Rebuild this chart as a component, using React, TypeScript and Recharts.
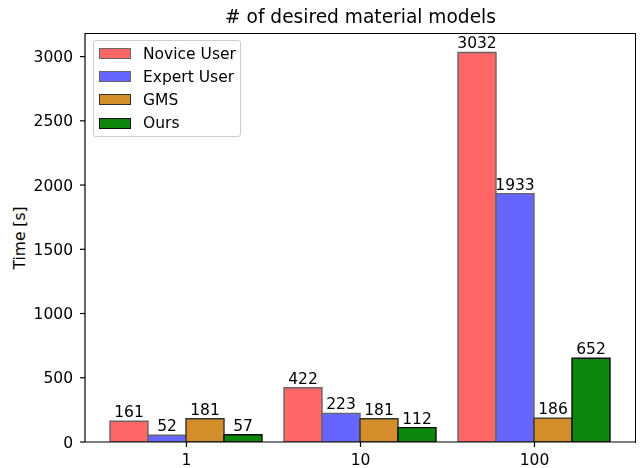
import React from 'react';
import { BarChart, Bar, XAxis, YAxis, LabelList } from 'recharts';

const categories = ['1', '10', '100'];
const noviceUser = [161, 422, 3032];
const expertUser = [52, 223, 1933];
const gms = [181, 181, 186];
const ours = [57, 112, 652];
const yTicks = [0, 500, 1000, 1500, 2000, 2500, 3000];

const series = [
  { key: 'novice', name: 'Novice User', values: noviceUser, fill: '#ff6666', stroke: '#666666' },
  { key: 'expert', name: 'Expert User', values: expertUser, fill: '#6666ff', stroke: '#666666' },
  { key: 'gms', name: 'GMS', values: gms, fill: '#d38e2b', stroke: '#333333' },
  { key: 'ours', name: 'Ours', values: ours, fill: '#0b870b', stroke: '#0d0d0d' },
];

const data = categories.map((category, i) => {
  const row: Record<string, string | number> = { category };
  series.forEach((s) => {
    row[s.key] = s.values[i];
  });
  return row;
});

const FONT = '"DejaVu Sans", sans-serif';
const FS = 15.5;
const tickStyle = { fontSize: FS, fill: '#000', fontFamily: FONT };

function LegendBox() {
  return (
    <div
      style={{
        position: 'absolute',
        left: 93,
        top: 40,
        width: 148,
        height: 97,
        boxSizing: 'border-box',
        border: '1px solid #cccccc',
        borderRadius: 3,
        background: 'rgba(255,255,255,0.8)',
        paddingTop: 1,
      }}
    >
      {series.map((s) => (
        <div
          key={s.key}
          style={{ display: 'flex', alignItems: 'center', height: 23.2, paddingLeft: 5 }}
        >
          <div
            style={{
              width: 32,
              height: 11,
              flexShrink: 0,
              boxSizing: 'border-box',
              background: s.fill,
              border: `1.5px solid ${s.stroke}`,
            }}
          />
          <span
            style={{
              marginLeft: 12,
              fontSize: FS,
              fontFamily: FONT,
              color: '#000',
              whiteSpace: 'nowrap',
            }}
          >
            {s.name}
          </span>
        </div>
      ))}
    </div>
  );
}

export default function App() {
  return (
    <div style={{ position: 'fixed', left: 0, top: 0, width: 641, height: 468, background: '#fff' }}>
      <div
        style={{
          position: 'absolute',
          left: 0,
          width: 721,
          top: 5.5,
          textAlign: 'center',
          fontSize: 18.6,
          lineHeight: '22px',
          fontFamily: FONT,
          color: '#000',
        }}
      >
        # of desired material models
      </div>
      <div
        style={{
          position: 'absolute',
          left: 20,
          top: 237.5,
          transform: 'translate(-50%, -50%) rotate(-90deg)',
          fontSize: FS,
          fontFamily: FONT,
          whiteSpace: 'nowrap',
          color: '#000',
        }}
      >
        Time [s]
      </div>
      <BarChart
        width={641}
        height={468}
        data={data}
        margin={{ top: 33, right: 5, bottom: 0, left: 0 }}
        barCategoryGap={10.5}
        barGap={0}
      >
        <XAxis
          dataKey="category"
          height={26}
          padding={{ left: 14.5, right: 14.5 }}
          tick={tickStyle}
          tickSize={5}
          tickMargin={7}
          axisLine={{ stroke: '#000', strokeWidth: 1.2 }}
          tickLine={{ stroke: '#000', strokeWidth: 1.2 }}
        />
        <YAxis
          width={85}
          domain={[0, 3183.6]}
          ticks={yTicks}
          allowDataOverflow
          tick={tickStyle}
          tickSize={5}
          tickMargin={7}
          axisLine={{ stroke: '#000', strokeWidth: 1.2 }}
          tickLine={{ stroke: '#000', strokeWidth: 1.2 }}
        />
        {series.map((s) => (
          <Bar
            key={s.key}
            dataKey={s.key}
            name={s.name}
            fill={s.fill}
            stroke={s.stroke}
            strokeWidth={1.4}
            isAnimationActive={false}
          >
            <LabelList
              dataKey={s.key}
              position="top"
              offset={4}
              style={{ fontSize: FS, fill: '#000', fontFamily: FONT }}
            />
          </Bar>
        ))}
      </BarChart>
      {/* top and right spines of the axes box */}
      <div
        style={{
          position: 'absolute',
          left: 85,
          top: 32.5,
          width: 551,
          height: 410,
          boxSizing: 'border-box',
          borderTop: '1.2px solid #000',
          borderRight: '1.2px solid #000',
          pointerEvents: 'none',
        }}
      />
      <LegendBox />
    </div>
  );
}
